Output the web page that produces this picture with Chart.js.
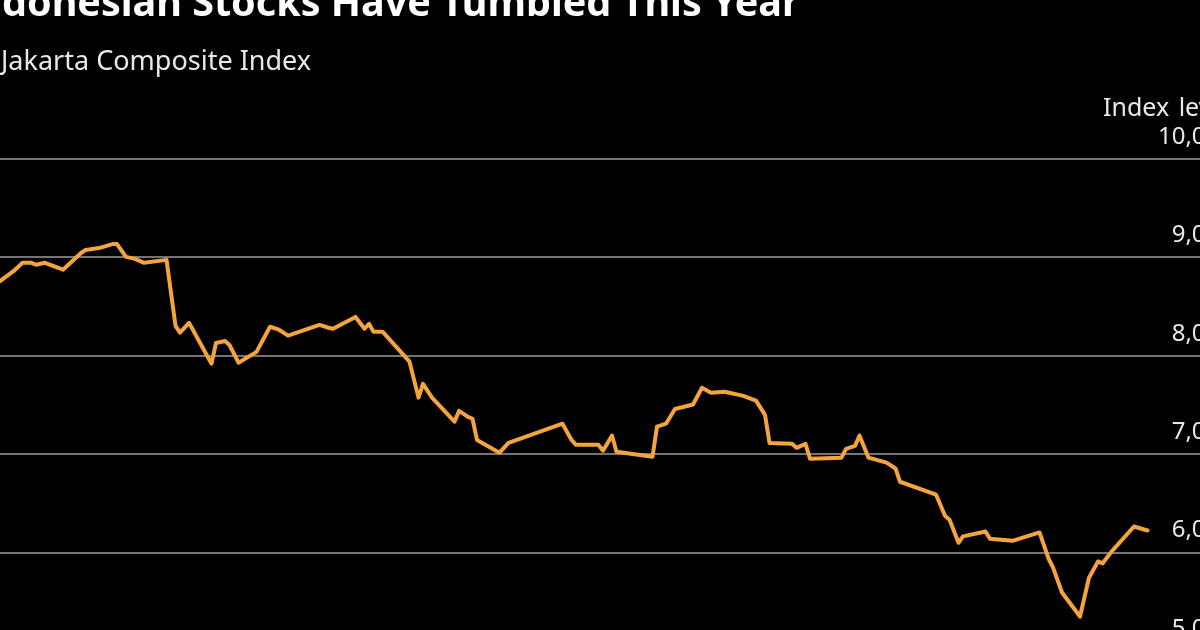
<!DOCTYPE html>
<html>
<head>
<meta charset="utf-8">
<script src="https://cdn.jsdelivr.net/npm/chart.js@4.4.1/dist/chart.umd.min.js"></script>
<style>
  html, body { margin: 0; padding: 0; background: #000; overflow: hidden; }
  #frame { position: relative; width: 1200px; height: 630px; overflow: hidden; background: #000; }
  .txt { position: absolute; white-space: nowrap; font-family: "Noto Sans", sans-serif; }
  #title { left: -39px; top: -18px; font-size: 39.5px; line-height: 39.5px; font-weight: 700; color: #fff; }
  #subtitle { left: 1px; top: 46px; font-size: 27px; line-height: 27px; color: #e8e8e8; }
  #unit { left: 1103px; top: 94px; font-size: 25px; line-height: 25px; word-spacing: 3px; color: #e8e8e8; }
  #box { position: absolute; left: 0; top: 0; width: 1233px; height: 700px; }
</style>
</head>
<body>
<div id="frame">
  <div id="box"><canvas id="myChart"></canvas></div>
  <div class="txt" id="title">Indonesian Stocks Have Tumbled This Year</div>
  <div class="txt" id="subtitle">Jakarta Composite Index</div>
  <div class="txt" id="unit">Index level</div>
</div>
<script>
"use strict";
// calendar days from the start of the series
var days = [0, 3, 5, 7, 8, 10, 14, 18, 19, 22, 25, 26, 28, 30, 32, 37, 39, 40, 42, 47,
    48, 50, 51, 53, 57, 60, 62, 64, 71, 73, 74, 79, 81, 82, 83, 85, 91, 93, 94, 96,
    101, 102, 104, 105, 106, 111, 113, 125, 127, 128, 133, 134, 136, 137, 145, 146, 148, 150, 154, 156,
    158, 161, 165, 168, 170, 171, 176, 177, 179, 180, 187, 188, 190, 191, 193, 197, 199, 200, 208, 210,
    211, 213, 214, 219, 220, 225, 231, 233, 234, 236, 240, 242, 244, 245, 247, 252, 255];
// Jakarta Composite Index level
var levels = [8760, 8860, 8945, 8945, 8925, 8945, 8875, 9045, 9075, 9095, 9135, 9135, 9005, 8985, 8945, 8975, 8305, 8235, 8335, 7920,
    8130, 8150, 8110, 7930, 8040, 8295, 8265, 8205, 8315, 8285, 8275, 8395, 8275, 8325, 8245, 8245, 7940, 7575, 7715, 7575,
    7330, 7440, 7380, 7360, 7145, 7015, 7115, 7310, 7145, 7095, 7095, 7035, 7190, 7025, 6975, 7280, 7310, 7460, 7505, 7675,
    7625, 7635, 7595, 7545, 7400, 7115, 7105, 7065, 7105, 6955, 6965, 7055, 7085, 7190, 6965, 6915, 6855, 6720, 6590, 6375,
    6335, 6100, 6165, 6215, 6140, 6120, 6205, 5940, 5850, 5595, 5350, 5745, 5910, 5890, 6010, 6265, 6225];
var yTicks = [5000, 6000, 7000, 8000, 9000, 10000];

(function () {
    var points = days.map(function (d, i) { return { x: d, y: levels[i] }; });
    var ctx = document.getElementById("myChart").getContext("2d");
    new Chart(ctx, {
        type: "line",
        data: {
            datasets: [{
                label: "Jakarta Composite Index",
                data: points,
                borderColor: "#f3a43c",
                borderWidth: 4,
                borderJoinStyle: "round",
                borderCapStyle: "round",
                pointRadius: 0,
                tension: 0,
                fill: false
            }]
        },
        options: {
            responsive: true,
            maintainAspectRatio: false,
            animation: false,
            layout: { padding: { top: 159, bottom: 49, left: 0, right: 0 } },
            plugins: { legend: { display: false }, tooltip: { enabled: false } },
            scales: {
                x: { type: "linear", display: false, min: 0, max: 274 },
                y: {
                    position: "right",
                    min: yTicks[0],
                    max: yTicks[yTicks.length - 1],
                    afterBuildTicks: function (axis) {
                        axis.ticks = yTicks.map(function (v) { return { value: v }; });
                    },
                    border: { display: false },
                    grid: { color: "#747474", lineWidth: 2, drawTicks: false },
                    ticks: {
                        mirror: true,
                        padding: 0,
                        labelOffset: -22,
                        color: "#e8e8e8",
                        font: { family: "Noto Sans", size: 24 },
                        callback: function (v) { return v.toLocaleString("en-US"); }
                    }
                }
            }
        }
    });
})();
</script>
</body>
</html>
